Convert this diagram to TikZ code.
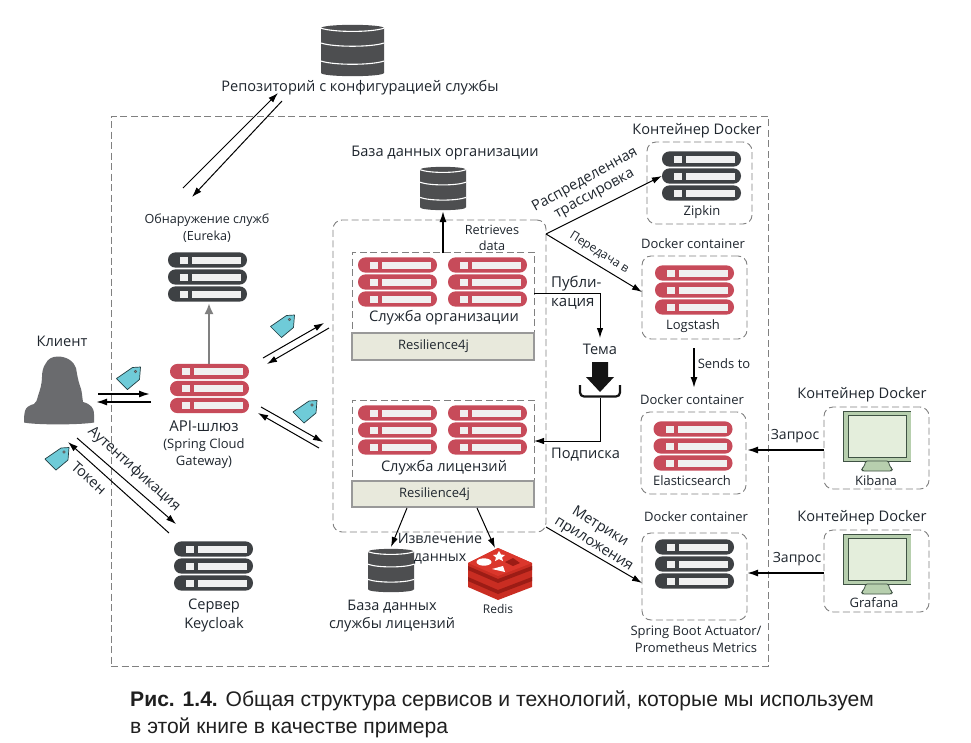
\documentclass[tikz,border=0pt]{standalone}
\usepackage{fontspec}
\setmainfont{Open Sans}
\newfontfamily\capfont{Liberation Sans}
\usetikzlibrary{arrows.meta}
\definecolor{srvred}{HTML}{C74B5A}
\definecolor{srvdark}{HTML}{3E4144}
\definecolor{dbgray}{HTML}{4D4E50}
\definecolor{dashgray}{HTML}{808080}
\definecolor{tagblue}{HTML}{6FCBD8}
\definecolor{resfill}{HTML}{E8E9DC}
\definecolor{scrfill}{HTML}{E4EEDC}
\definecolor{monfill}{HTML}{B7CFAE}
\definecolor{mondark}{HTML}{3F5244}
\definecolor{txtcol}{HTML}{1F262E}
\definecolor{redisred}{HTML}{DB372C}
\definecolor{redisside}{HTML}{C92D22}
\definecolor{redisdark}{HTML}{9C1C15}
\definecolor{clientgray}{HTML}{6A6B6E}
\tikzset{
  lab/.style={inner sep=0pt,align=center,text=txtcol,font=\fontsize{14.6}{18}\selectfont},
  labs/.style={lab,font=\fontsize{13}{17}\selectfont},
  dashbox/.style={draw=dashgray,dashed,dash pattern=on 7pt off 3.5pt,line width=0.9pt,rounded corners=9pt,inner sep=0pt},
  resbox/.style={draw=dashgray!80,fill=resfill,line width=1.8pt,inner sep=0pt,text=txtcol,font=\fontsize{13}{15}\selectfont},
  iconbox/.style={inner sep=0pt,minimum width=79pt,minimum height=49pt},
  arr/.style={draw=black,line width=1pt,-{Latex[length=10pt,width=6.5pt]}},
  arrb/.style={draw=black,line width=1.6pt,-{Latex[length=11pt,width=7pt]}},
}
\newcommand{\pillrow}[2]{%
  \fill[#2,rounded corners=7.4pt] (-39.5,#1-7.6) rectangle (39.5,#1+7.6);
  \fill[white!94!black] (-27.5,#1-3.5) rectangle (-19.5,#1+3.5);
  \fill[white!94!black] (-15.5,#1-3.5) rectangle (33.5,#1+3.5);
}
\newcommand{\srvicon}[4]{%
  \node[iconbox] (#1) at (#2,#3) {};
  \begin{scope}[shift={(#2,#3)}]
    \pillrow{-17}{#4}\pillrow{0}{#4}\pillrow{17}{#4}
  \end{scope}
}
\newcommand{\dbicon}[5]{%
  \node[inner sep=0pt,minimum width=#4 pt,minimum height=#5 pt] (#1) at (#2,#3) {};
  \begin{scope}[shift={(#2,#3)},xscale=#4/47,yscale=#5/43]
    \fill[dbgray] (-23.5,-18.8) .. controls (-23.5,-22.6) and (23.5,-22.6) .. (23.5,-18.8) -- (23.5,18.8) .. controls (23.5,22.6) and (-23.5,22.6) .. (-23.5,18.8) -- cycle;
    \foreach \yy in {-18.8,-6.3,8.9}
      \draw[white,line width=1.1pt] (-23.5,\yy) .. controls (-14,\yy+3.6) and (14,\yy+3.6) .. (23.5,\yy);
  \end{scope}
}
\newcommand{\tagicon}[3]{%
  \node[inner sep=0pt,minimum width=24pt,minimum height=23pt] (#1) at (#2+12,#3+11.5) {};
  \begin{scope}[shift={(#2,#3)}]
    \filldraw[fill=tagblue,draw=black!70!tagblue,line width=0.7pt,line join=round] (16,1) -- (24,0.5) -- (23,13) -- (11,23) -- (0,12) -- cycle;
    \filldraw[fill=gray,draw=black!70,line width=0.4pt] (19,5) circle[radius=1.4];
  \end{scope}
}
\newcommand{\monicon}[3]{%
  \node[inner sep=0pt,minimum width=67pt,minimum height=60pt] (#1) at (#2+33.5,#3+30) {};
  \begin{scope}[shift={(#2,#3)}]
    \fill[monfill] (0,0) rectangle (67,50);
    \draw[mondark,line width=1pt] (67,0) -- (0,0) -- (0,50) -- (67,50);
    \filldraw[fill=scrfill,draw=mondark,line width=1pt] (4.5,4.5) rectangle (63,46);
    \filldraw[fill=monfill,draw=mondark,line width=0.8pt,rounded corners=1.5pt] (22,50) -- (21,55) -- (18,58) -- (19,60) -- (48,60) -- (49,58) -- (46,55) -- (45,50) -- cycle;
  \end{scope}
}
\begin{document}
\begin{tikzpicture}[x=1pt,y=-1pt]
\useasboundingbox (0,0) rectangle (971,742);
\fill[white] (0,0) rectangle (971,742);

% outer frame
\node[dashbox,rounded corners=0pt,minimum width=657pt,minimum height=550pt] (outer) at (439.5,391) {};

% repo
\dbicon{repo}{352.5}{50.5}{63}{51}
\node[lab] (repotxt) at (360,87.5) {Репозиторий с конфигурацией службы};

% eureka
\node[lab,font=\fontsize{12.6}{17}\selectfont] (eurekatxt) at (207,228.5) {Обнаружение служб\\(Eureka)};
\srvicon{eureka}{207.5}{277}{srvdark}

% client
\node[lab] (clienttxt) at (62,341) {Клиент};
\node[inner sep=0pt,minimum width=70pt,minimum height=68pt] (client) at (59,391) {};
\fill[clientgray] (58,356.5) .. controls (52,356.5) and (48,359) .. (46,363) .. controls (43,367) and (42,372) .. (42,377) .. controls (42,384) and (40,390) .. (38,396) .. controls (37,400) and (36,403) .. (34,404) .. controls (30,405) and (26,407) .. (25,411) .. controls (24,415) and (24,419) .. (24,422.5) .. controls (35,425) and (80,425) .. (94,422.5) .. controls (94,418) and (94.5,412) .. (93,409) .. controls (91,405) and (87,403) .. (83,402) .. controls (82,396) and (82,390) .. (80,386) .. controls (78,380) and (77,374) .. (76,368) .. controls (74,361) and (66,356.5) .. (58,356.5) -- cycle;

% gateway
\srvicon{gateway}{209.5}{388.5}{srvred}
\node[lab,font=\fontsize{13}{17}\selectfont] (gwtxt) at (204,445) {{\fontsize{15}{17}\selectfont API-шлюз}\\(Spring Cloud\\Gateway)};

% keycloak
\srvicon{keycloak}{213.5}{566}{srvdark}
\node[lab,font=\fontsize{14.6}{19}\selectfont] (kctxt) at (214,615.5) {Сервер\\Keycloak};

% services box
\node[dashbox,minimum width=213pt,minimum height=312pt] (svc) at (439.5,376) {};
\node[dashbox,rounded corners=0pt,minimum width=182pt,minimum height=81pt] (orgbox) at (443,292.5) {};
\node[resbox,minimum width=182pt,minimum height=27pt] (orgres) at (443,346.5) {\hspace*{-19pt}Resilience4j};
\srvicon{orgA}{397.5}{282}{srvred}
\srvicon{orgB}{487.5}{282}{srvred}
\node[lab] (orgtxt) at (444,318) {Служба организации};

\node[dashbox,rounded corners=0pt,minimum width=182pt,minimum height=81pt] (licbox) at (443,440.5) {};
\node[resbox,minimum width=182pt,minimum height=26pt] (licres) at (443,494) {\hspace*{-17pt}Resilience4j};
\srvicon{licA}{397.5}{430}{srvred}
\srvicon{licB}{487.5}{430}{srvred}
\node[lab] (lictxt) at (444,468) {Служба лицензий};

% org db
\node[lab] (orgdbtxt) at (445,153) {База данных организации};
\dbicon{orgdb}{443}{188.5}{46}{43}
\node[labs,font=\fontsize{12.7}{16}\selectfont] (rettxt) at (492,238) {Retrieves\\data};

% lic db
\dbicon{licdb}{391}{570.5}{46}{43}
\node[lab,font=\fontsize{14.5}{18}\selectfont] (licdbtxt) at (392,616) {База данных\\службы лицензий};

% redis
\node[inner sep=0pt,minimum width=64pt,minimum height=52pt] (redis) at (500,574) {};
\fill[redisside,line join=round] (468,563) -- (498,548) -- (532,563) -- (532,587) -- (498,600) -- (468,587) -- cycle;
\fill[redisdark] (468,566) -- (498,579) -- (532,566) -- (532,570) -- (498,583) -- (468,570) -- cycle;
\fill[redisdark] (468,577) -- (498,590) -- (532,577) -- (532,581) -- (498,594) -- (468,581) -- cycle;
\fill[redisred] (468,563) -- (498,548) -- (532,563) -- (498,576) -- cycle;
\fill[white] (499,551) -- (501,554.5) -- (505,555) -- (502,557.5) -- (503,561) -- (499,559) -- (495,561) -- (496,557.5) -- (493,555) -- (497,554.5) -- cycle;
\fill[white] (484,562) ellipse[x radius=7.5,y radius=3.7];
\fill[white] (492,569) -- (503,566) -- (505,572) -- cycle;
\fill[redisdark] (505,562) -- (513,558) -- (520,563) -- (513,566) -- cycle;
\node[labs,font=\fontsize{12}{14}\selectfont] (redistxt) at (498,609) {Redis};
\node[lab,font=\fontsize{14.2}{18}\selectfont] (extract) at (440,549) {Извлечение\\данных};

% topic
\node[lab] (topictxt) at (600,349) {Тема};
\node[inner sep=0pt,minimum width=40pt,minimum height=36pt] (topic) at (600,380) {};
\fill[black!92] (592,362) -- (608,362) -- (608,377) -- (614,377) -- (600,392) -- (586,377) -- (592,377) -- cycle;
\draw[black!92,line width=2.2pt,rounded corners=4pt] (580,385) -- (580,396.5) -- (620,396.5) -- (620,385);

% right containers
\node[lab] (zipcap) at (697,130.5) {Контейнер Docker};
\node[dashbox,minimum width=105pt,minimum height=82pt] (zipbox) at (699.5,183) {};
\srvicon{zipkin}{701.5}{176}{srvdark}
\node[labs] (ziptxt) at (702,212) {Zipkin};

\node[labs] (logcap) at (693,244) {Docker container};
\node[dashbox,minimum width=105pt,minimum height=83pt] (logbox) at (694.5,297.5) {};
\srvicon{logstash}{694.5}{290}{srvred}
\node[labs] (logtxt) at (693,326) {Logstash};

\node[labs] (elcap) at (692,400) {Docker container};
\node[dashbox,minimum width=105pt,minimum height=82pt] (elbox) at (693.5,453) {};
\srvicon{elastic}{693}{446}{srvred}
\node[labs] (eltxt) at (692,481) {Elasticsearch};

\node[labs] (metcap) at (696,517) {Docker container};
\node[dashbox,minimum width=105pt,minimum height=87pt] (metbox) at (694.5,576.5) {};
\srvicon{metrics}{694.5}{564}{srvdark}
\node[labs] (mettxt) at (696,639.5) {Spring Boot Actuator/\\Prometheus Metrics};

\node[lab] (kibcap) at (862,394.5) {Контейнер Docker};
\node[dashbox,minimum width=105pt,minimum height=82pt] (kibbox) at (876.5,448) {};
\monicon{kibana}{843.5}{411}
\node[labs] (kibtxt) at (876,481) {Kibana};

\node[lab] (gracap) at (862,517.5) {Контейнер Docker};
\node[dashbox,minimum width=105pt,minimum height=82pt] (grabox) at (876.5,571) {};
\monicon{grafana}{843.5}{534}
\node[labs] (gratxt) at (874,603) {Grafana};

% tags
\tagicon{tagA}{116.5}{366.5}
\tagicon{tagB}{270.5}{314.5}
\tagicon{tagC}{293}{400}
\tagicon{tagD}{45}{447}

% free ends
\coordinate (a1s) at (183,188); \coordinate (a1e) at (278,93);
\coordinate (a2s) at (282,101); \coordinate (a2e) at (192,197);
\coordinate (c1s) at (98,394); \coordinate (c1e) at (150,394);
\coordinate (c2s) at (151,402); \coordinate (c2e) at (96,402);
\coordinate (g1s) at (263,358); \coordinate (g1e) at (324,323);
\coordinate (g2s) at (329,328); \coordinate (g2e) at (267,364);
\coordinate (g3s) at (261,407); \coordinate (g3e) at (323,442);
\coordinate (g4s) at (319,448); \coordinate (g4e) at (258,413);
\coordinate (k1s) at (77,438); \coordinate (k1e) at (176,524);
\coordinate (k2s) at (169,533); \coordinate (k2e) at (68,442);
\coordinate (fork) at (546,234);
\coordinate (logend) at (642,292);
\coordinate (metstart) at (546,527);
\coordinate (metend) at (642,583);
\coordinate (pubs) at (534,293);
\coordinate (pubc) at (600,293);
\coordinate (pube) at (600,338);
\coordinate (subs) at (600,398);
\coordinate (subc) at (600,441);
\coordinate (sube) at (534,441);
\coordinate (orgup) at (443,253);
\coordinate (orgdbend) at (443,211);
\coordinate (sndS) at (694,348);
\coordinate (sndE) at (694,388);
\coordinate (l1s) at (407,508); \coordinate (l1e) at (391,547);
\coordinate (l2s) at (477,508); \coordinate (l2e) at (495,548);
\coordinate (gweu) at (209,364); \coordinate (gwue) at (209,303);
\coordinate (k3s) at (824,450); \coordinate (k3e) at (747,450);
\coordinate (g5s) at (824,573); \coordinate (g5e) at (747,573);

% connectors
\draw[arr] (a1s) -- (a1e);
\draw[arr] (a2s) -- (a2e);
\draw[arrb] (c1s) -- (c1e);
\draw[arrb] (c2s) -- (c2e);
\draw[arr] (g1s) -- (g1e);
\draw[arr] (g2s) -- (g2e);
\draw[arr] (g3s) -- (g3e);
\draw[arr] (g4s) -- (g4e);
\draw[arr] (k1s) -- (k1e);
\draw[arr] (k2s) -- (k2e);
\draw[draw=gray,line width=2.6pt,-{Latex[length=11pt,width=9pt]}] (gweu) -- (gwue);
\draw[arrb] (orgup) -- (orgdbend);
\draw[arr] (fork) -- (zipkin.west);
\draw[arr] (fork) -- (logend);
\draw[arr] (metstart) -- (metend);
\draw[arr] (pubs) -- (pubc) -- (pube);
\draw[arr] (subs) -- (subc) -- (sube);
\draw[arrb] (sndS) -- (sndE);
\draw[arr] (l1s) -- (l1e);
\draw[arr] (l2s) -- (l2e);
\draw[arrb] (k3s) -- (k3e);
\draw[arrb] (g5s) -- (g5e);

% connector labels
\node[lab,rotate=-42] (authtxt) at (134,469) {Аутентификация};
\node[lab,rotate=-42] (toktxt) at (89,478) {Токен};
\node[lab,rotate=29] (tr1) at (585,180) {Распределенная};
\node[lab,rotate=29] (tr2) at (595,195) {трассировка};
\node[lab,rotate=-32,font=\fontsize{12}{13}\selectfont] (peredtxt) at (599,253) {Передача в};
\node[lab,align=left,anchor=west,font=\fontsize{15}{18.5}\selectfont] (pubtxt) at (551,292.5) {Публи-\\кация};
\node[lab,anchor=west] (subtxt) at (551,455) {Подписка};
\node[lab,rotate=-32] (m1) at (600,527) {Метрики};
\node[lab,rotate=-32] (m2) at (593,545) {приложения};
\node[labs] (sendtxt) at (724,364) {Sends to};
\node[lab,font=\fontsize{14}{18}\selectfont] (q1) at (795,436) {Запрос};
\node[lab,font=\fontsize{14}{18}\selectfont] (q2) at (797,559) {Запрос};

% caption
\node[inner sep=0pt,anchor=north west,align=left,text=black!88,font=\capfont\fontsize{21.1}{27}\selectfont] (caption) at (130,691) {\textbf{Рис. 1.4.} Общая структура сервисов и технологий, которые мы используем\\в этой книге в качестве примера};
\end{tikzpicture}
\end{document}
